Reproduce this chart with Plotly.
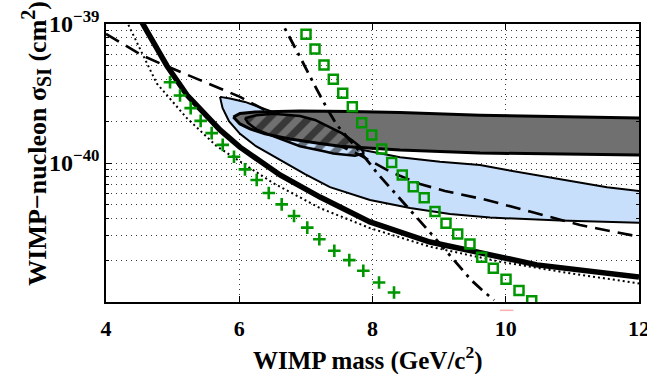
import plotly.graph_objects as go

# ---------------- data (WIMP mass in GeV/c^2, cross-section in cm^2) ----------------
thick_x = [4.45, 4.555, 4.916, 5.216, 5.711, 6.011, 6.612, 7.212, 7.962, 8.863, 9.719, 10.469, 12.0]
thick_y = [1.22e-39, 1.0e-39, 4.99e-40, 3.08e-40, 1.73e-40, 1.30e-40, 8.2e-41, 5.69e-41, 3.77e-41,
           2.70e-41, 2.18e-41, 1.85e-41, 1.51e-41]

dotted_x = [4.28, 4.330, 4.761, 5.211, 5.662, 6.161, 6.507, 7.212, 7.962, 8.863, 9.914, 10.964, 12.0]
dotted_y = [1.15e-39, 1.0e-39, 3.74e-40, 2.11e-40, 1.32e-40, 9.2e-41, 7.18e-41, 4.74e-41, 3.40e-41,
            2.50e-41, 1.95e-41, 1.61e-41, 1.36e-41]

dashed_x = [4.0, 4.555, 4.856, 5.411, 6.011, 6.386, 6.912, 7.362, 7.812, 8.263, 8.713, 9.088,
            9.714, 10.364, 11.115, 12.0]
dashed_y = [8.48e-40, 5.9e-40, 5.1e-40, 3.95e-40, 2.99e-40, 2.40e-40, 1.82e-40, 1.44e-40, 1.14e-40,
            8.66e-41, 7.06e-41, 6.29e-41, 5.42e-41, 4.47e-41, 3.58e-41, 2.95e-41]

dashdot_x = [6.55, 6.652, 6.912, 7.162, 7.332, 7.467, 7.617, 7.767, 7.917, 8.068, 8.218, 8.368,
             8.518, 8.713, 8.923, 9.118, 9.314, 9.479, 9.644, 9.824]
dashdot_y = [1.23e-39, 1.0e-39, 5.79e-40, 3.40e-40, 2.40e-40, 1.87e-40, 1.54e-40, 1.28e-40, 1.05e-40,
             8.48e-41, 7.06e-41, 5.89e-41, 4.82e-41, 3.83e-41, 2.94e-41, 2.29e-41, 1.79e-41,
             1.44e-41, 1.22e-41, 1.03e-41]

plus_x = [4.961, 5.111, 5.271, 5.421, 5.586, 5.752, 5.921, 6.086, 6.262, 6.443, 6.637, 6.822,
          7.021, 7.202, 7.427, 7.652, 7.862, 8.098, 8.323]
plus_y = [3.81e-40, 3.06e-40, 2.48e-40, 2.01e-40, 1.64e-40, 1.35e-40, 1.11e-40, 9.0e-41, 7.55e-41,
          6.08e-41, 5.04e-41, 4.16e-41, 3.43e-41, 2.83e-41, 2.34e-41, 2.0e-41, 1.68e-41,
          1.38e-41, 1.17e-41]

square_x = [7.002, 7.137, 7.272, 7.412, 7.553, 7.697, 7.838, 7.988, 8.138, 8.288, 8.447, 8.612,
            8.776, 8.938, 9.103, 9.279, 9.463, 9.639, 9.813, 10.004, 10.199, 10.39]
square_y = [8.43e-40, 6.61e-40, 5.07e-40, 4.0e-40, 3.17e-40, 2.54e-40, 1.95e-40, 1.59e-40, 1.26e-40,
            1.01e-40, 8.2e-41, 6.75e-41, 5.62e-41, 4.47e-41, 3.68e-41, 3.08e-41, 2.61e-41,
            2.10e-41, 1.75e-41, 1.46e-41, 1.21e-41, 1.02e-41]

# light-blue allowed region (closed contour)
blue_x = [5.711, 5.861, 6.086, 6.311, 6.462, 6.912, 7.362, 7.857, 8.413, 9.013, 9.614, 10.019,
          10.619, 11.520, 12.1,
          12.1, 10.814, 9.764, 9.163, 8.563, 7.962, 7.362, 6.987, 6.582, 6.251, 6.011, 5.846,
          5.749, 5.711]
blue_y = [2.99e-40, 2.91e-40, 2.75e-40, 2.53e-40, 2.37e-40, 1.87e-40, 1.51e-40, 1.24e-40, 1.10e-40,
          1.02e-40, 9.68e-41, 8.91e-41, 7.97e-41, 6.68e-41, 6.2e-41,
          3.70e-41, 3.85e-41, 4.05e-41, 4.30e-41, 4.74e-41, 5.42e-41, 6.71e-41, 8.33e-41,
          1.07e-40, 1.32e-40, 1.62e-40, 2.00e-40, 2.49e-40, 2.99e-40]

# dark-grey allowed region
gray_x = [5.911, 6.011, 6.236, 6.416, 6.912, 7.662, 8.413, 9.614, 10.814, 12.1,
          12.1, 9.614, 8.413, 7.857, 7.512, 7.212, 6.762, 6.386, 6.161, 6.011, 5.911]
gray_y = [2.14e-40, 2.27e-40, 2.33e-40, 2.34e-40, 2.37e-40, 2.35e-40, 2.31e-40, 2.21e-40, 2.16e-40,
          2.10e-40,
          1.14e-40, 1.18e-40, 1.24e-40, 1.28e-40, 1.32e-40, 1.38e-40, 1.49e-40, 1.62e-40,
          1.76e-40, 1.91e-40, 2.14e-40]

# hatched region
hatch_x = [6.086, 6.262, 6.511, 6.912, 7.137, 7.317, 7.538, 7.692, 7.812, 7.862,
           7.862, 7.737, 7.630, 7.412, 7.287, 6.912, 6.537, 6.262, 6.131, 6.086]
hatch_y = [2.10e-40, 2.21e-40, 2.26e-40, 2.18e-40, 2.04e-40, 1.86e-40, 1.64e-40, 1.46e-40, 1.31e-40,
           1.20e-40,
           1.17e-40, 1.13e-40, 1.14e-40, 1.17e-40, 1.21e-40, 1.32e-40, 1.54e-40, 1.74e-40,
           1.94e-40, 2.10e-40]

x_ticks = [4, 6, 8, 10, 12]
y_ticks = [1e-40, 1e-39]
y_ticktext = ["10<sup>\u221240</sup>", "10<sup>\u221239</sup>"]
y_minor = [k * 10.0 ** e for e in (-41, -40) for k in range(2, 10)]

FONT = "Liberation Serif"
GREEN = "rgb(0,150,0)"

fig = go.Figure()

fig.add_trace(go.Scatter(x=blue_x, y=blue_y, mode="lines", fill="toself",
                         fillcolor="rgb(200,223,252)", line=dict(color="black", width=2)))
fig.add_trace(go.Scatter(x=dashed_x, y=dashed_y, mode="lines",
                         line=dict(color="black", width=2.6, dash="15px,8px")))
fig.add_trace(go.Scatter(x=gray_x, y=gray_y, mode="lines", fill="toself",
                         fillcolor="rgb(112,112,112)", line=dict(color="black", width=3)))
fig.add_trace(go.Scatter(x=hatch_x, y=hatch_y, mode="lines", fill="toself",
                         fillcolor="rgba(0,0,0,0)",
                         fillpattern=dict(shape="/", fgcolor="black", bgcolor="rgba(0,0,0,0)",
                                          size=14, solidity=0.5),
                         line=dict(color="black", width=2.5)))
fig.add_trace(go.Scatter(x=thick_x, y=thick_y, mode="lines", line=dict(color="black", width=5.5)))
fig.add_trace(go.Scatter(x=dotted_x, y=dotted_y, mode="lines",
                         line=dict(color="black", width=2, dash="2px,3px")))
fig.add_trace(go.Scatter(x=dashdot_x, y=dashdot_y, mode="lines",
                         line=dict(color="black", width=2.8, dash="13px,6px,3px,6px")))
fig.add_trace(go.Scatter(x=plus_x, y=plus_y, mode="markers",
                         marker=dict(symbol="cross-thin", size=9, color=GREEN,
                                     line=dict(color=GREEN, width=2.6))))
fig.add_trace(go.Scatter(x=square_x, y=square_y, mode="markers",
                         marker=dict(symbol="square-open", size=9, color=GREEN,
                                     line=dict(color=GREEN, width=2.5))))

grid_dash = "1px,4px"
grid_col = "rgb(60,60,60)"

fig.update_layout(
    width=647, height=374,
    margin=dict(l=106, r=8, t=24, b=72),
    paper_bgcolor="white", plot_bgcolor="white",
    showlegend=False,
    xaxis=dict(range=[4, 12], tickvals=x_ticks, ticks="inside", ticklen=6, tickwidth=1,
               tickcolor="black", showline=True, mirror="allticks", linecolor="black",
               linewidth=1.5, showgrid=True, gridcolor=grid_col, griddash=grid_dash,
               gridwidth=1, zeroline=False, automargin=False, ticklabelstandoff=6,
               ticklabeloverflow="allow",
               tickfont=dict(family=FONT, size=22, color="black", weight="bold")),
    yaxis=dict(type="log", range=[-41, -39], tickvals=y_ticks, ticktext=y_ticktext,
               ticks="inside", ticklen=6, tickcolor="black", showline=True,
               mirror="allticks", linecolor="black", linewidth=1.5, showgrid=True,
               gridcolor=grid_col, griddash=grid_dash, gridwidth=1, zeroline=False,
               automargin=False, ticklabeloverflow="allow",
               tickfont=dict(family=FONT, size=24, color="black", weight="bold"),
               minor=dict(tickvals=y_minor, ticks="inside", ticklen=3, tickcolor="black",
                          showgrid=True, gridcolor=grid_col, griddash=grid_dash,
                          gridwidth=1)),
    annotations=[
        dict(text="WIMP mass (GeV/c<sup>2</sup>)", xref="paper", yref="paper",
             x=0.4916, y=-0.205, xanchor="center", yanchor="middle", showarrow=False,
             font=dict(family=FONT, size=25, color="black", weight="bold")),
        dict(text="WIMP\u2212nucleon \u03c3<sub><span style='font-size:20px'>SI</span></sub>"
                  " (cm<sup><span style='font-size:20px'>2</span></sup>)",
             xref="paper", yref="paper", x=-0.132, y=0.572, xanchor="center",
             yanchor="middle", textangle=-90, showarrow=False,
             font=dict(family=FONT, size=26, color="black", weight="bold")),
    ],
    shapes=[dict(type="line", xref="x", yref="paper", x0=9.914, x1=10.114, y0=-0.03,
                 y1=-0.03, line=dict(color="rgb(255,175,175)", width=1.5))],
)

fig.write_html("out.html")
